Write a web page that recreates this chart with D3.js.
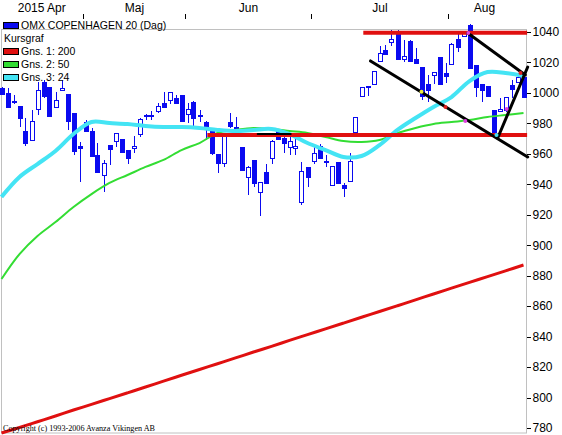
<!DOCTYPE html>
<html><head><meta charset="utf-8">
<script src="https://cdn.jsdelivr.net/npm/d3@7"></script>
<style>
html,body{margin:0;padding:0;background:#fff;}
svg{display:block;}
</style></head>
<body>
<script>
// ---- data ----
const months = ["2015 Apr", "Maj", "Jun", "Jul", "Aug"];
const monthStart = [0, 14, 31, 52, 75];
const yTicks = [780, 800, 820, 840, 860, 880, 900, 920, 940, 960, 980, 1000, 1020, 1040];

const opens = [1003.2,999.9,994.7,991.4,975.0,969.1,989.4,1007.2,1003.9,990.8,
 1001.9,999.3,986.8,965.1,980.9,975.0,959.2,946.1,965.8,968.4,
 969.7,962.5,963.8,973.0,984.8,985.2,988.1,993.4,995.4,996.7,
 998.6,986.2,994.0,985.5,980.9,977.0,959.9,954.0,980.9,977.6,
 964.5,944.8,956.0,934.9,948.1,957.3,975.0,970.4,964.5,963.8,
 928.4,951.4,955.3,965.1,955.3,939.5,954.6,939.5,942.2,974.3,
 998.0,1003.9,1005.9,1021.0,1028.2,1033.4,1039.3,1022.3,1034.1,1022.3,
 1017.0,1005.9,1011.8,1023.6,1013.1,1019.0,1035.4,1037.4,1044.6,1018.3,
 1005.9,1004.5,988.8,988.1,988.8,1005.2,1007.2,1010.5];
const highs = [1003.9,1003.2,998.6,991.4,983.5,988.8,1007.2,1008.5,1003.9,1000.6,
 1008.5,999.3,986.8,967.8,982.2,977.0,967.1,956.0,965.8,973.7,
 969.7,962.5,971.7,983.5,986.2,988.1,993.4,1000.6,1000.6,998.6,
 998.6,993.4,994.7,988.8,981.6,977.0,959.9,973.7,986.8,984.2,
 964.5,952.0,956.0,941.5,953.3,969.1,975.0,973.7,971.7,970.4,
 954.6,951.4,964.5,966.5,959.2,952.0,954.6,940.9,960.6,984.2,
 1003.9,1004.5,1014.4,1030.8,1031.5,1041.3,1041.3,1034.7,1034.7,1029.5,
 1017.0,1011.8,1013.7,1023.6,1019.6,1032.8,1039.3,1040.7,1045.3,1018.3,
 1005.9,1004.5,988.8,996.7,997.3,1008.5,1013.1,1011.8];
const lows = [998.6,990.8,992.7,977.6,965.1,969.1,985.5,996.7,984.8,990.1,
 1001.9,975.7,959.2,941.5,974.3,958.6,948.1,934.9,952.7,964.5,
 960.6,953.3,960.6,971.1,982.2,982.2,986.8,990.1,992.7,993.4,
 981.6,980.2,977.6,980.9,969.1,959.2,947.4,951.4,977.0,971.1,
 949.4,933.0,938.2,919.2,940.9,953.3,969.7,960.6,959.2,959.2,
 926.4,938.2,953.3,957.3,951.4,939.5,940.9,931.7,942.2,973.7,
 998.0,998.0,1005.2,1021.0,1025.6,1030.8,1022.3,1020.3,1021.0,1019.6,
 995.4,994.0,1005.9,1005.9,1006.5,1019.0,1026.9,1037.4,1016.4,997.3,
 994.0,998.0,972.4,987.5,987.5,996.7,1006.5,997.3];
const closes = [999.3,990.8,994.0,983.5,967.1,981.6,1001.9,998.0,984.8,995.4,
 1003.2,981.6,961.9,963.8,975.0,958.6,948.1,954.0,963.2,973.7,
 961.2,957.3,965.1,982.9,985.5,985.8,991.4,990.8,1000.6,993.4,
 981.6,989.4,983.5,984.8,977.6,960.6,954.0,972.4,978.3,972.4,
 949.4,951.4,940.9,941.5,940.9,968.4,969.7,967.1,968.4,965.1,
 948.7,944.8,960.6,957.3,954.6,952.0,940.9,937.6,955.3,984.2,
 1003.9,1004.5,1014.4,1026.2,1025.6,1035.4,1022.3,1024.2,1021.0,1019.6,
 998.0,1001.9,1013.7,1005.9,1011.1,1032.1,1030.2,1039.3,1016.4,1003.9,
 1001.9,998.0,972.4,989.4,997.3,1002.6,1010.5,997.3];

// moving averages, read at every third trading day
const maIndex = [0,3,6,9,12,15,18,21,24,27,30,33,36,39,42,45,48,51,54,57,60,63,66,69,72,75,78,81,84,87];
const ma200 = [776.7,780.3,784.1,787.9,791.8,795.5,799.3,803.1,806.9,810.8,814.6,818.4,822.2,826.0,829.9,833.6,837.5,841.3,845.1,848.9,852.7,856.5,860.3,864.1,868.0,871.8,875.6,879.4,883.2,887.0];
const ma50 = [877.8,894.2,906.1,915.2,925.1,933.6,940.9,946.1,951.4,956.0,962.5,967.1,973.7,975.7,977.0,976.3,975.0,973.7,971.1,968.4,967.8,969.1,973.7,977.0,979.6,980.9,982.2,984.2,985.5,986.8];
const ma24 = [931.7,944.8,953.3,961.9,973.0,980.9,980.2,979.6,978.3,977.6,977.6,977.0,975.7,975.0,975.7,976.3,973.0,967.1,962.5,957.9,958.6,965.8,975.7,983.5,990.8,997.3,1007.8,1013.7,1013.1,1011.1];

// drawn lines [startIndex, startPrice, endIndex, endPrice]
const redLevels = [[34.3, 972.4, 87.6, 972.4], [60.3, 1039.5, 87.6, 1039.5]];
const blackLines = [[77.7, 1039.3, 87.3, 1011.8], [61.5, 1021.0, 87.7, 957.9], [82.7, 970.4, 87.7, 1017.0], [42.7, 973.0, 48.2, 973.0]];
const markers = [[77.8, 1039.3, "#e040e0"], [70.0, 1000.7, "#f0f040"], [74.0, 990.8, "#e02020"], [77.3, 981.6, "#e040e0"], [82.5, 972.4, "#40e0f0"], [84.2, 989.4, "#e040e0"], [86.5, 1013.1, "#e02020"]];

const legendItems = [
  {label: "OMX COPENHAGEN 20 (Dag)", color: "#0a0af0"},
  {label: "Kursgraf", color: null},
  {label: "Gns. 1: 200", color: "#e01010"},
  {label: "Gns. 2: 50", color: "#33dd33"},
  {label: "Gns. 3: 24", color: "#44e4f4"}
];

// ---- chart ----
const W = 562, H = 435;
const svg = d3.select("body").append("svg").attr("width", W).attr("height", H)
  .style("font-family", "'Liberation Sans', Arial, sans-serif");
svg.append("rect").attr("width", W).attr("height", H).attr("fill", "#fff");

const x = d3.scaleLinear().domain([0, 87]).range([1.5, 523.5]);
const y = d3.scaleLinear().domain([780, 1040]).range([428, 32]);
const blue = "#0a0af0";

// frame
svg.append("rect").attr("x", 1.5).attr("y", 29.5).attr("width", 525).attr("height", 403.5)
  .attr("fill", "none").attr("stroke", "#c0c0c0").attr("stroke-width", 1);

// right axis
const yAxis = d3.axisRight(y).tickValues(yTicks).tickSize(4).tickPadding(2).tickFormat(d3.format("d"));
const ya = svg.append("g").attr("transform", "translate(526.5,0)").call(yAxis);
ya.select(".domain").remove();
ya.selectAll("line").attr("stroke", "#000").attr("shape-rendering", "crispEdges");
ya.selectAll("text").attr("font-size", 12).attr("fill", "#000").attr("x", 6);

// top month axis
const tickX = monthStart.map(s => Math.round(x(s) - 3) + 0.5);
const labelX = months.map((m, k) => {
  const a = k === 0 ? 0 : tickX[k];
  const b = k < months.length - 1 ? tickX[k + 1] : x(86.5);
  return (a + b) / 2;
});
svg.append("g").selectAll("line").data(tickX.slice(1)).join("line")
  .attr("x1", d => d).attr("x2", d => d).attr("y1", 14).attr("y2", 19)
  .attr("stroke", "#000");
svg.append("g").selectAll("text").data(months).join("text")
  .attr("x", (d, k) => labelX[k]).attr("y", 12).attr("text-anchor", "middle")
  .attr("font-size", 12).attr("fill", "#000").text(d => d);

// candles
const idx = d3.range(opens.length);
const cg = svg.append("g").attr("shape-rendering", "crispEdges");
cg.selectAll("line").data(idx).join("line")
  .attr("x1", i => Math.round(x(i)) + 0.5).attr("x2", i => Math.round(x(i)) + 0.5)
  .attr("y1", i => y(highs[i])).attr("y2", i => y(lows[i]))
  .attr("stroke", blue).attr("stroke-width", 1);
cg.selectAll("rect").data(idx).join("rect")
  .attr("x", i => Math.round(x(i)) - 1.5)
  .attr("width", 4)
  .attr("y", i => Math.round(y(Math.max(opens[i], closes[i]))) + 0.5)
  .attr("height", i => Math.max(1, Math.round(Math.abs(y(opens[i]) - y(closes[i])))))
  .attr("fill", i => closes[i] > opens[i] ? "#fff" : blue)
  .attr("stroke", blue).attr("stroke-width", 1);

// moving averages
const line = d3.line().x(d => x(d[0])).y(d => y(d[1])).curve(d3.curveCatmullRom.alpha(0.5));
svg.append("path").datum(maIndex.map((k, j) => [k, ma200[j]])).attr("d", line)
  .attr("fill", "none").attr("stroke", "#e01010").attr("stroke-width", 3);
svg.append("path").datum(maIndex.map((k, j) => [k, ma50[j]])).attr("d", line)
  .attr("fill", "none").attr("stroke", "#33dd33").attr("stroke-width", 2);
svg.append("path").datum(maIndex.map((k, j) => [k, ma24[j]])).attr("d", line)
  .attr("fill", "none").attr("stroke", "#44e4f4").attr("stroke-width", 4);

// drawn levels and trend lines
svg.append("g").selectAll("line").data(redLevels).join("line")
  .attr("x1", d => x(d[0])).attr("y1", d => y(d[1])).attr("x2", d => x(d[2])).attr("y2", d => y(d[3]))
  .attr("stroke", "#e01010").attr("stroke-width", 4);
svg.append("g").selectAll("line").data(blackLines).join("line")
  .attr("x1", d => x(d[0])).attr("y1", d => y(d[1])).attr("x2", d => x(d[2])).attr("y2", d => y(d[3]))
  .attr("stroke", "#000").attr("stroke-width", (d, k) => k === 3 ? 2 : 3).attr("stroke-linecap", "round");
svg.append("g").selectAll("circle").data(markers).join("circle")
  .attr("cx", d => x(d[0])).attr("cy", d => y(d[1])).attr("r", 2).attr("fill", d => d[2]);

// legend
const lg = svg.append("g").attr("font-size", 10.5);
legendItems.forEach((it, k) => {
  const yy = 29 + k * 13;
  if (it.color) {
    lg.append("rect").attr("x", 3.5).attr("y", yy - 6.5).attr("width", 15).attr("height", 6)
      .attr("fill", it.color).attr("stroke", "#000").attr("stroke-width", 1);
    lg.append("text").attr("x", 21).attr("y", yy).text(it.label);
  } else {
    lg.append("text").attr("x", 4).attr("y", yy).text(it.label);
  }
});

// copyright
svg.append("text").attr("x", 3).attr("y", 431).attr("font-size", 9)
  .attr("font-family", "'Liberation Serif', 'Times New Roman', serif")
  .attr("textLength", 152).attr("lengthAdjust", "spacingAndGlyphs")
  .text("Copyright (c) 1993-2006 Avanza Vikingen AB");
</script>
</body></html>
